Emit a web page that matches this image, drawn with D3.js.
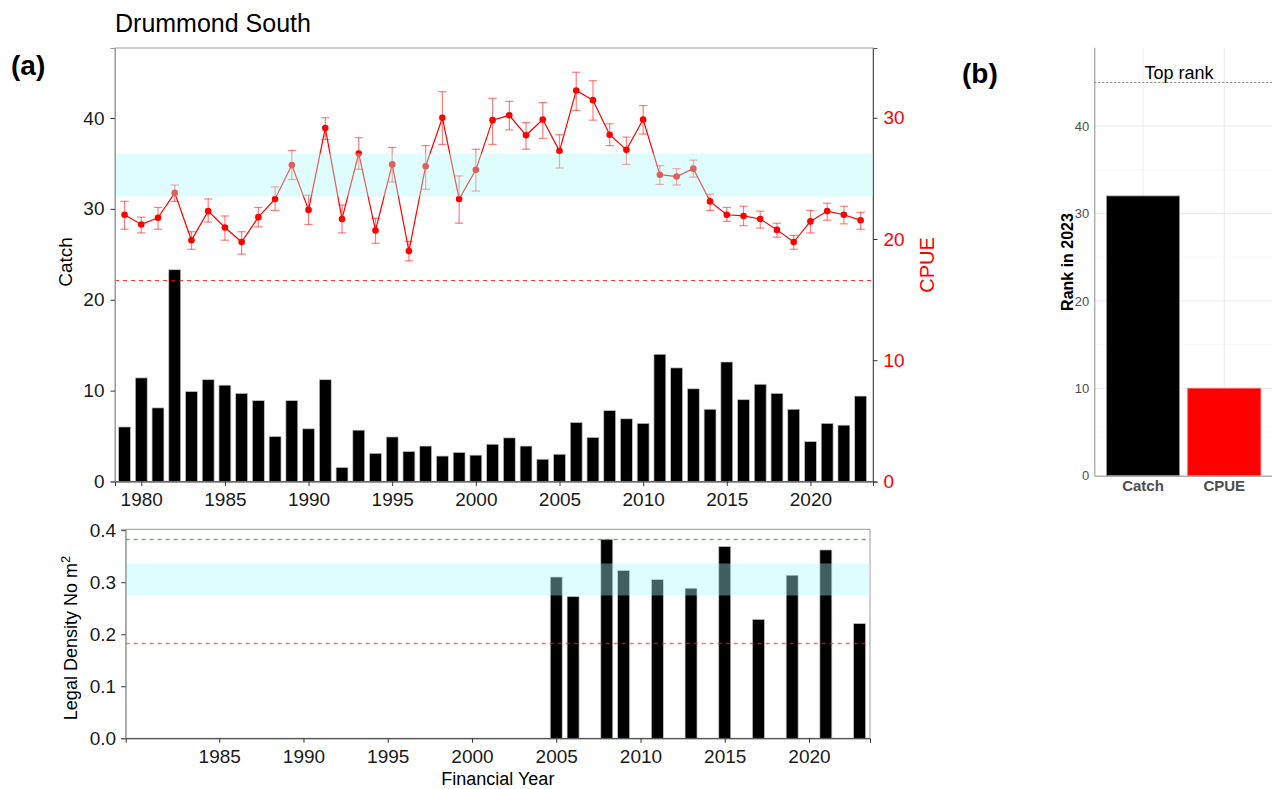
<!DOCTYPE html>
<html>
<head>
<meta charset="utf-8">
<script src="https://cdn.jsdelivr.net/npm/d3@7"></script>
<style>
  html, body { margin: 0; padding: 0; background: #fff; }
  svg { display: block; font-family: "Liberation Sans", Arial, sans-serif; }
</style>
</head>
<body>
<svg id="chart" width="1272" height="789"></svg>
<script>
// ---- data ----
const years = [1979, 1980, 1981, 1982, 1983, 1984, 1985, 1986, 1987, 1988,
               1989, 1990, 1991, 1992, 1993, 1994, 1995, 1996, 1997, 1998,
               1999, 2000, 2001, 2002, 2003, 2004, 2005, 2006, 2007, 2008,
               2009, 2010, 2011, 2012, 2013, 2014, 2015, 2016, 2017, 2018,
               2019, 2020, 2021, 2022, 2023];
const catchVals = [6.0, 11.4, 8.1, 23.3, 9.9, 11.2, 10.6, 9.7, 8.9, 4.95,
                   8.9, 5.8, 11.2, 1.55, 5.65, 3.1, 4.9, 3.3, 3.9, 2.8,
                   3.2, 2.9, 4.1, 4.8, 3.9, 2.45, 3.0, 6.5, 4.85, 7.8,
                   6.9, 6.4, 14.0, 12.5, 10.2, 7.95, 13.15, 9.0, 10.7, 9.7,
                   7.95, 4.4, 6.4, 6.2, 9.4];
const cpueVals = [22.0, 21.2, 21.75, 23.8, 19.9, 22.3, 20.95, 19.75, 21.8, 23.3,
                  26.1, 22.4, 29.15, 21.65, 27.05, 20.7, 26.15, 19.0, 26.0, 30.0,
                  23.3, 25.7, 29.8, 30.2, 28.55, 29.85, 27.25, 32.25, 31.45, 28.6,
                  27.35, 29.85, 25.3, 25.15, 25.8, 23.1, 22.0, 21.9, 21.65, 20.75,
                  19.75, 21.45, 22.3, 22.0, 21.55];
const cpueLo = [20.8, 20.5, 20.8, 23.1, 19.15, 21.4, 19.9, 18.75, 21.0, 22.35,
                24.9, 21.2, 28.2, 20.5, 25.75, 19.65, 24.7, 18.2, 24.1, 27.8,
                21.3, 23.95, 27.8, 29.0, 27.4, 28.3, 25.85, 30.6, 29.8, 27.7,
                26.15, 28.65, 24.5, 24.45, 25.1, 22.35, 21.45, 21.1, 20.9, 20.15,
                19.15, 20.5, 21.55, 21.25, 20.8];
const cpueHi = [23.1, 21.8, 22.6, 24.45, 20.6, 23.3, 21.9, 20.6, 22.6, 24.3,
                27.3, 23.6, 30.0, 22.8, 28.35, 21.7, 27.55, 19.8, 27.7, 32.15,
                25.2, 27.4, 31.6, 31.35, 29.6, 31.25, 28.6, 33.75, 33.05, 29.5,
                28.4, 31.0, 26.05, 25.8, 26.5, 23.7, 22.6, 22.7, 22.3, 21.3,
                20.3, 22.35, 22.95, 22.7, 22.2];
const cpueBand = [23.5, 27.05];      // reference range
const cpueLimit = 16.6;              // limit reference

const densityYears = [2005, 2006, 2008, 2009, 2011, 2013, 2015, 2017, 2019, 2021, 2023];
const densityVals  = [0.310, 0.2725, 0.3825, 0.3225, 0.305, 0.2885, 0.3685, 0.2285, 0.3135, 0.362, 0.2205];
const densityBand = [0.2745, 0.336];
const densityTarget = 0.3825;
const densityLimit = 0.1823;

const rankCats = ["Catch", "CPUE"];
const rankVals = [32, 10];
const rankColors = ["#000000", "#ff0000"];
const topRank = 45;

const topYearTicks = [1980, 1985, 1990, 1995, 2000, 2005, 2010, 2015, 2020];
const bottomYearTicks = [1985, 1990, 1995, 2000, 2005, 2010, 2015, 2020];
const catchTicks = [0, 10, 20, 30, 40];
const cpueTicks = [0, 10, 20, 30];
const densityTicks = [0, 0.1, 0.2, 0.3, 0.4];
const rankTicks = [0, 10, 20, 30, 40];

// ---- drawing ----
const svg = d3.select("#chart");
const FONT = 19;
const bandFill = "rgb(170,250,250)";
const bandOpacity = 0.38;

function styleAxis(g, lineColor, textColor, size) {
  g.selectAll("text").attr("fill", textColor).style("font-size", size + "px");
  g.selectAll(".tick line").attr("stroke", "#333");
  g.select(".domain").attr("stroke", lineColor);
}

// horizontal dashed reference line snapped to the pixel grid
function refLine(g, x1, x2, y, color, opacity, dash, width) {
  const yy = Math.round(y) + 0.5;
  return g.append("line")
    .attr("x1", x1).attr("x2", x2).attr("y1", yy).attr("y2", yy)
    .style("stroke", color).style("stroke-opacity", opacity)
    .style("stroke-width", width || 1.2).style("stroke-dasharray", dash);
}

// ===== panel (a) upper: catch bars + CPUE line =====
const T = { left: 115, right: 873, top: 48, bottom: 481.5 };
const xT = d3.scaleLinear().domain([1978.43, 2023.74]).range([T.left, T.right]);
const yC = d3.scaleLinear().domain([0, 47.7]).range([T.bottom, T.top]);
const yP = d3.scaleLinear().domain([0, 35.75]).range([T.bottom, T.top]);
const barW = 0.71;

const upper = svg.append("g");

// panel border
upper.append("rect").attr("x", T.left).attr("y", T.top)
  .attr("width", T.right - T.left).attr("height", T.bottom - T.top)
  .attr("fill", "none").attr("stroke", "#9a9a9a").attr("stroke-width", 1);

// catch bars
upper.append("g").selectAll("rect").data(years).join("rect")
  .attr("x", (d) => xT(d - barW / 2))
  .attr("width", xT(barW) - xT(0))
  .attr("y", (d, i) => yC(catchVals[i]))
  .attr("height", (d, i) => yC(0) - yC(catchVals[i]))
  .attr("fill", "#000").attr("stroke", "#c4c4c4").attr("stroke-width", 0.7);

// CPUE limit reference
refLine(upper, T.left, T.right, yP(cpueLimit), "#ff0000", 0.8, "4,4");

// CPUE error bars
const capW = 0.25;
const eb = upper.append("g").attr("stroke", "#ff0000").attr("stroke-opacity", 0.5).attr("stroke-width", 1.2);
years.forEach((yr, i) => {
  eb.append("line").attr("x1", xT(yr)).attr("x2", xT(yr)).attr("y1", yP(cpueLo[i])).attr("y2", yP(cpueHi[i]));
  eb.append("line").attr("x1", xT(yr - capW)).attr("x2", xT(yr + capW)).attr("y1", yP(cpueLo[i])).attr("y2", yP(cpueLo[i]));
  eb.append("line").attr("x1", xT(yr - capW)).attr("x2", xT(yr + capW)).attr("y1", yP(cpueHi[i])).attr("y2", yP(cpueHi[i]));
});

// CPUE line and points
upper.append("path").datum(years)
  .attr("fill", "none").attr("stroke", "#ff0000").attr("stroke-width", 1.2)
  .attr("d", d3.line().x((d) => xT(d)).y((d, i) => yP(cpueVals[i])));
upper.append("g").selectAll("circle").data(years).join("circle")
  .attr("cx", (d) => xT(d)).attr("cy", (d, i) => yP(cpueVals[i]))
  .attr("r", 3.3).attr("fill", "#ff0000");

// reference range band (drawn over the series, translucent)
upper.append("rect")
  .attr("x", T.left).attr("width", T.right - T.left)
  .attr("y", yP(cpueBand[1])).attr("height", yP(cpueBand[0]) - yP(cpueBand[1]))
  .attr("fill", bandFill).attr("fill-opacity", bandOpacity);

// axes
const axL = upper.append("g").attr("transform", `translate(${T.left},0)`)
  .call(d3.axisLeft(yC).tickValues(catchTicks).tickSize(4.5).tickPadding(6));
styleAxis(axL, "#9a9a9a", "#1a1a1a", FONT);
const axR = upper.append("g").attr("transform", `translate(${T.right},0)`)
  .call(d3.axisRight(yP).tickValues(cpueTicks).tickSize(4.5).tickPadding(6));
styleAxis(axR, "#555", "#ff0000", FONT);
const axB = upper.append("g").attr("transform", `translate(0,${T.bottom})`)
  .call(d3.axisBottom(xT).tickValues(topYearTicks).tickFormat(d3.format("d")).tickSize(4.5).tickPadding(7));
styleAxis(axB, "#333", "#1a1a1a", FONT);

upper.append("text").attr("transform", `translate(72,262) rotate(-90)`)
  .attr("text-anchor", "middle").style("font-size", "19px").attr("fill", "#000").text("Catch");
upper.append("text").attr("transform", `translate(934,265) rotate(-90)`)
  .attr("text-anchor", "middle").style("font-size", "20px").attr("fill", "#ff0000").text("CPUE");

// titles
svg.append("text").attr("x", 115).attr("y", 32).style("font-size", "25px").attr("fill", "#000").text("Drummond South");
svg.append("text").attr("x", 11).attr("y", 75).style("font-size", "28px").style("font-weight", "bold").attr("fill", "#000").text("(a)");
svg.append("text").attr("x", 962).attr("y", 83).style("font-size", "28px").style("font-weight", "bold").attr("fill", "#000").text("(b)");

// ===== panel (a) lower: legal density =====
const B = { left: 125.7, right: 870, top: 529.3, bottom: 738.3 };
const xB = d3.scaleLinear().domain([1979.45, 2023.62]).range([B.left, B.right]);
const yD = d3.scaleLinear().domain([0, 0.4017]).range([B.bottom, B.top]);
const lower = svg.append("g");

lower.append("rect").attr("x", B.left).attr("y", B.top)
  .attr("width", B.right - B.left).attr("height", B.bottom - B.top)
  .attr("fill", "none").attr("stroke", "#9a9a9a").attr("stroke-width", 1);

lower.append("g").selectAll("rect").data(densityYears).join("rect")
  .attr("x", (d) => xB(d - barW / 2))
  .attr("width", xB(barW) - xB(0))
  .attr("y", (d, i) => yD(densityVals[i]))
  .attr("height", (d, i) => yD(0) - yD(densityVals[i]))
  .attr("fill", "#000").attr("stroke", "#c4c4c4").attr("stroke-width", 0.7);

lower.append("rect")
  .attr("x", B.left).attr("width", B.right - B.left)
  .attr("y", yD(densityBand[1])).attr("height", yD(densityBand[0]) - yD(densityBand[1]))
  .attr("fill", bandFill).attr("fill-opacity", bandOpacity);

refLine(lower, B.left, B.right, yD(densityTarget), "rgb(40,160,40)", 0.75, "4,4", 1.3);
refLine(lower, B.left, B.right, yD(densityLimit), "rgb(255,30,30)", 0.65, "4,4", 1.3);

const bL = lower.append("g").attr("transform", `translate(${B.left},0)`)
  .call(d3.axisLeft(yD).tickValues(densityTicks).tickFormat(d3.format(".1f")).tickSize(4.5).tickPadding(5));
styleAxis(bL, "#9a9a9a", "#1a1a1a", FONT);
const bB = lower.append("g").attr("transform", `translate(0,${B.bottom})`)
  .call(d3.axisBottom(xB).tickValues(bottomYearTicks).tickFormat(d3.format("d")).tickSize(4.5).tickPadding(7));
styleAxis(bB, "#333", "#1a1a1a", FONT);

const dl = lower.append("text").attr("transform", `translate(77,638) rotate(-90)`)
  .attr("text-anchor", "middle").style("font-size", "18px").attr("fill", "#000");
dl.append("tspan").text("Legal Density No m");
dl.append("tspan").attr("dy", -7).style("font-size", "13px").text("2");
lower.append("text").attr("x", (B.left + B.right) / 2).attr("y", 785)
  .attr("text-anchor", "middle").style("font-size", "18px").attr("fill", "#000").text("Financial Year");

// ===== panel (b): ranks =====
const R = { left: 1094.3, right: 1273, top: 47.3, bottom: 475.7 };
const xR = d3.scaleBand().domain(rankCats).range([R.left, R.right]).paddingInner(0.1).paddingOuter(0.15);
const yR = d3.scaleLinear().domain([0, 49]).range([R.bottom, R.top]);
const pb = svg.append("g");

// grid
[5, 15, 25, 35, 45].forEach((v) => pb.append("line")
  .attr("x1", R.left).attr("x2", R.right).attr("y1", yR(v)).attr("y2", yR(v))
  .attr("stroke", "#f3f3f3").attr("stroke-width", 0.6));
[10, 20, 30, 40].forEach((v) => pb.append("line")
  .attr("x1", R.left).attr("x2", R.right).attr("y1", yR(v)).attr("y2", yR(v))
  .attr("stroke", "#ebebeb").attr("stroke-width", 1));
rankCats.forEach((c) => pb.append("line")
  .attr("x1", xR(c) + xR.bandwidth() / 2).attr("x2", xR(c) + xR.bandwidth() / 2)
  .attr("y1", R.top).attr("y2", R.bottom)
  .attr("stroke", "#ebebeb").attr("stroke-width", 1));

pb.append("g").selectAll("rect").data(rankCats).join("rect")
  .attr("x", (d) => xR(d)).attr("width", xR.bandwidth())
  .attr("y", (d, i) => yR(rankVals[i]))
  .attr("height", (d, i) => yR(0) - yR(rankVals[i]))
  .attr("fill", (d, i) => rankColors[i])
  .attr("stroke", (d, i) => i === 0 ? "#9a9a9a" : "#ff6666").attr("stroke-width", 0.8);

refLine(pb, R.left, R.right, yR(topRank), "#8c8c8c", 1, "2,2");
pb.append("text").attr("x", 1179).attr("y", yR(topRank) - 3.5)
  .attr("text-anchor", "middle").style("font-size", "18px").attr("fill", "#000").text("Top rank");

const rL = pb.append("g").attr("transform", `translate(${R.left},0)`)
  .call(d3.axisLeft(yR).tickValues(rankTicks).tickSize(0).tickPadding(5));
rL.selectAll("text").attr("fill", "#4d4d4d").style("font-size", "13px");
rL.select(".domain").attr("stroke", "#8c8c8c");
const rB = pb.append("g").attr("transform", `translate(0,${R.bottom})`)
  .call(d3.axisBottom(xR).tickSize(0).tickPadding(5));
rB.selectAll("text").attr("fill", "#4d4d4d").style("font-size", "15px").style("font-weight", "bold");
rB.select(".domain").attr("stroke", "#8c8c8c");

pb.append("text").attr("transform", `translate(1073,262) rotate(-90)`)
  .attr("text-anchor", "middle").style("font-size", "16px").style("font-weight", "bold")
  .attr("fill", "#000").text("Rank in 2023");
</script>
</body>
</html>
